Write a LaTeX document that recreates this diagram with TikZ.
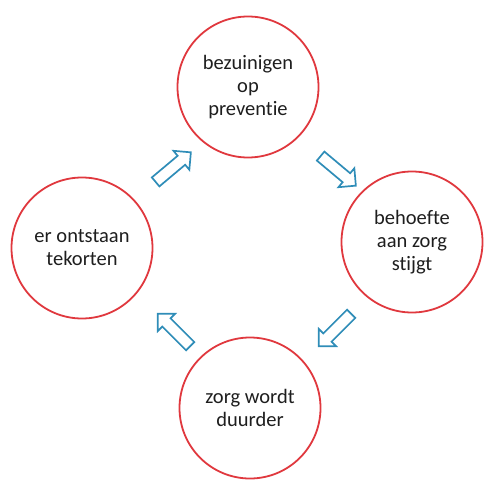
\documentclass[tikz,border=0pt]{standalone}
\usepackage{fontspec}
\setmainfont[Ligatures={NoCommon}]{Carlito}
\usetikzlibrary{shapes.arrows}
\definecolor{Ink}{HTML}{1E1E1E}
\definecolor{Ring}{HTML}{E0383E}
\definecolor{Flow}{HTML}{2F8DB8}
\tikzset{
  ring/.style={circle,draw=Ring,line width=1.8pt,minimum size=141pt,inner sep=0pt,align=center,text=Ink,font=\fontsize{20.5}{23}\selectfont,fill=white},
  flowarrow/.style={single arrow,draw=Flow,line width=1.7pt,fill=white,minimum height=46pt,inner sep=5pt,single arrow head extend=6.5pt,single arrow head indent=0pt}
}
\begin{document}
\begin{tikzpicture}[x=1pt,y=-1pt]
\useasboundingbox (0,0) rectangle (489,489);
\node[ring] (prev) at (248,87) {bezuinigen\\op\\preventie};
\node[ring] (need) at (412,242) {behoefte\\aan zorg\\stijgt};
\node[ring] (cost) at (250,408) {zorg wordt\\duurder};
\node[ring] (short) at (82,248) {er ontstaan\\tekorten};
\node[flowarrow,rotate=40] (a1) at (171,169) {};
\node[flowarrow,rotate=-40] (a2) at (336,169) {};
\node[flowarrow,rotate=-135] (a3) at (337,328) {};
\node[flowarrow,rotate=135] (a4) at (176,332) {};
\end{tikzpicture}
\end{document}
